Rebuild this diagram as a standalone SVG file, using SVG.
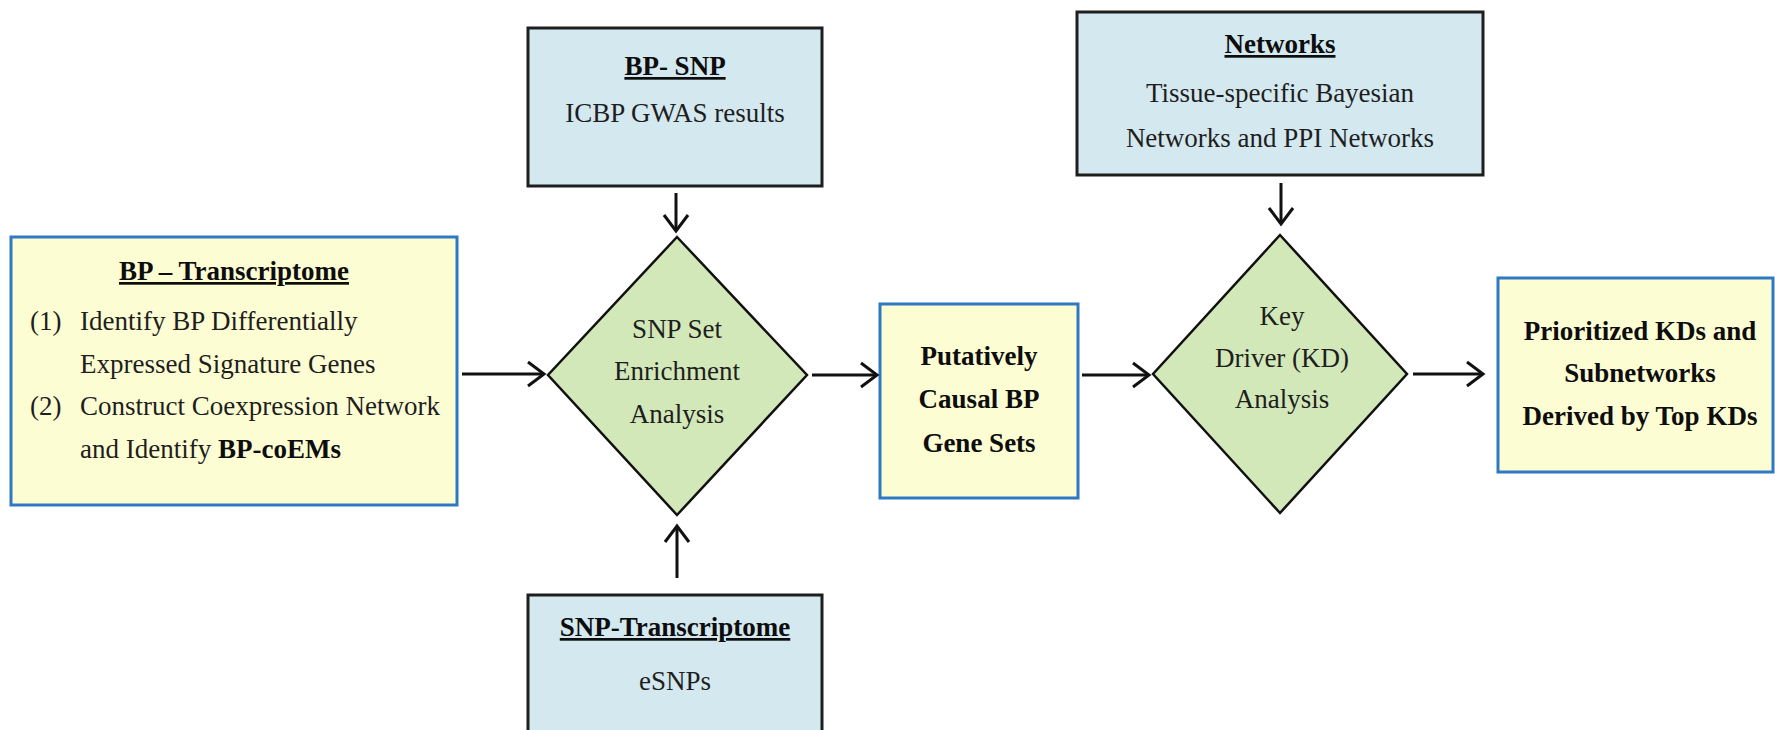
<svg xmlns="http://www.w3.org/2000/svg" width="1775" height="730" viewBox="0 0 1775 730">
<style>
  .yel { fill: #fdfdd3; stroke: #2f78c4; stroke-width: 3; }
  .blu { fill: #d4e8ef; stroke: #1e1e1e; stroke-width: 3; }
  .dia { fill: #d3e8b9; stroke: #111; stroke-width: 2.5; }
  text { font-family: "Liberation Serif", "Times New Roman", serif; font-size: 27px; fill: #1e1e1e; }
  .b { font-weight: bold; fill: #0d0d0d; }
  .u { text-decoration: underline; }
  .c { text-anchor: middle; }
  .con line { stroke: #111; stroke-width: 3; marker-end: url(#ah); }
</style>
<defs>
  <marker id="ah" markerUnits="userSpaceOnUse" viewBox="-20 -14 22 28" refX="0" refY="0" markerWidth="22" markerHeight="28" orient="auto" overflow="visible">
    <path d="M -16 -12 L 0 0 L -16 12" fill="none" stroke="#111" stroke-width="3" stroke-linejoin="miter"/>
  </marker>
</defs>
<rect width="1775" height="730" fill="#ffffff"/>

<g id="bp-transcriptome">
  <rect class="yel" x="11" y="237" width="446" height="268"/>
  <text class="b u c" x="234" y="280">BP – Transcriptome</text>
  <text x="30" y="330">(1)</text>
  <text x="80" y="330">Identify BP Differentially</text>
  <text x="80" y="373">Expressed Signature Genes</text>
  <text x="30" y="415">(2)</text>
  <text x="80" y="415">Construct Coexpression Network</text>
  <text x="80" y="458">and Identify <tspan class="b">BP-coEMs</tspan></text>
</g>

<g id="bp-snp">
  <rect class="blu" x="528" y="28" width="294" height="158"/>
  <text class="b u c" x="675" y="75">BP- SNP</text>
  <text class="c" x="675" y="122">ICBP GWAS results</text>
</g>

<g id="snp-transcriptome">
  <rect class="blu" x="528" y="595" width="294" height="150"/>
  <text class="b u c" x="675" y="636">SNP-Transcriptome</text>
  <text class="c" x="675" y="690">eSNPs</text>
</g>

<g id="snp-set-enrichment">
  <polygon class="dia" points="677,237 807,375 677,515 548,375"/>
  <text class="c" x="677" y="338">SNP Set</text>
  <text class="c" x="677" y="380">Enrichment</text>
  <text class="c" x="677" y="423">Analysis</text>
</g>

<g id="putatively-causal">
  <rect class="yel" x="880" y="304" width="198" height="194"/>
  <text class="b c" x="979" y="365">Putatively</text>
  <text class="b c" x="979" y="408">Causal BP</text>
  <text class="b c" x="979" y="452">Gene Sets</text>
</g>

<g id="networks">
  <rect class="blu" x="1077" y="12" width="406" height="163"/>
  <text class="b u c" x="1280" y="53">Networks</text>
  <text class="c" x="1280" y="102">Tissue-specific Bayesian</text>
  <text class="c" x="1280" y="147">Networks and PPI Networks</text>
</g>

<g id="key-driver">
  <polygon class="dia" points="1280,235 1407,374 1280,513 1153,374"/>
  <text class="c" x="1282" y="325">Key</text>
  <text class="c" x="1282" y="367">Driver (KD)</text>
  <text class="c" x="1282" y="408">Analysis</text>
</g>

<g id="prioritized-kds">
  <rect class="yel" x="1498" y="278" width="275" height="194"/>
  <text class="b c" x="1640" y="340">Prioritized KDs and</text>
  <text class="b c" x="1640" y="382">Subnetworks</text>
  <text class="b c" x="1640" y="425">Derived by Top KDs</text>
</g>

<g id="connectors" class="con">
  <line x1="462" y1="374" x2="544" y2="374"/>
  <line x1="812" y1="375" x2="877" y2="375"/>
  <line x1="1082" y1="375" x2="1149" y2="375"/>
  <line x1="1413" y1="374" x2="1483" y2="374"/>
  <line x1="676" y1="193" x2="676" y2="231"/>
  <line x1="677" y1="578" x2="677" y2="526"/>
  <line x1="1281" y1="183" x2="1281" y2="224"/>
</g>
</svg>
